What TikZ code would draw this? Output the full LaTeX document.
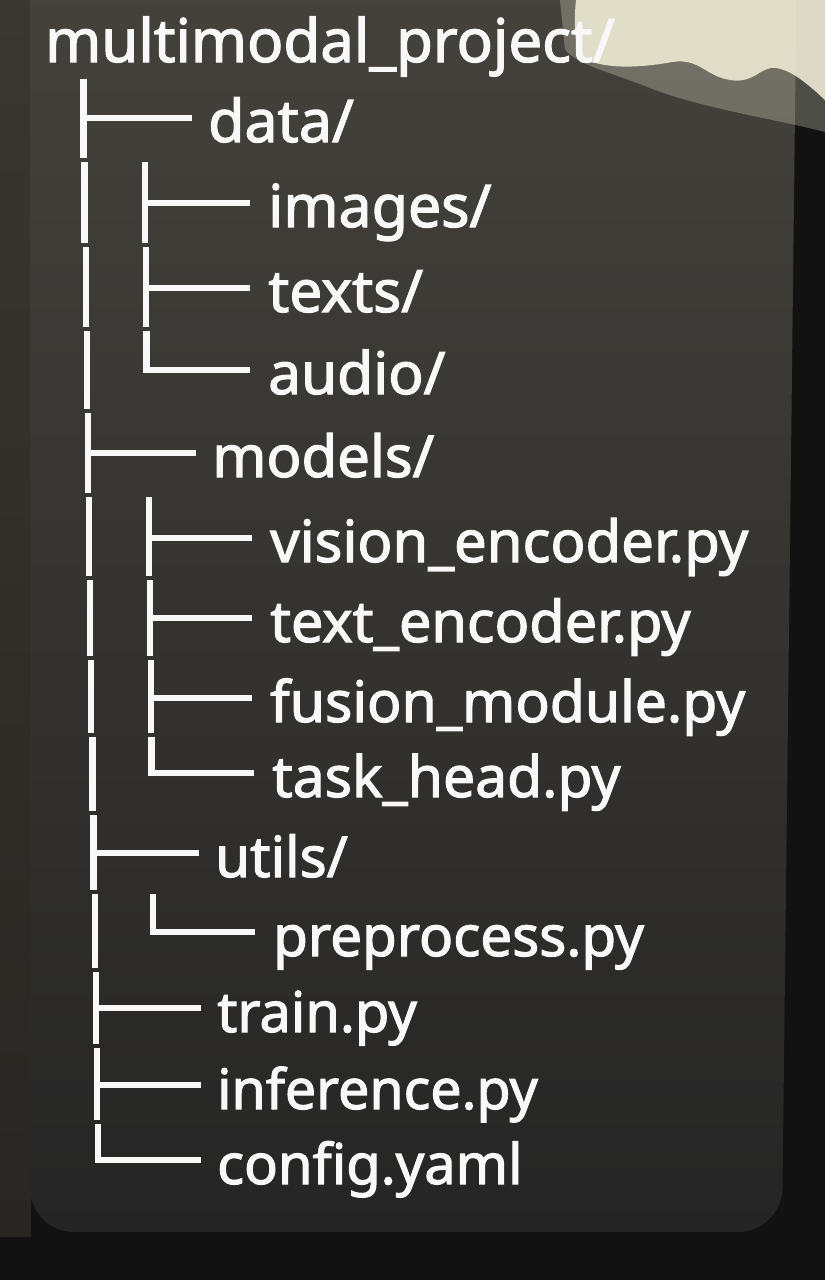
\documentclass[tikz,border=0pt]{standalone}
\usepackage{fontspec}
\newfontfamily\treefont{Noto Sans}[FakeBold=2]
\usetikzlibrary{calc}
\definecolor{outerbg}{HTML}{121212}
\definecolor{leftstrip}{HTML}{3A3630}
\definecolor{paneltop}{HTML}{46433D}
\definecolor{panelmid}{HTML}{2B2A28}
\definecolor{panelbot}{HTML}{252525}
\definecolor{glare}{HTML}{ECEAD4}
\definecolor{ink}{HTML}{F8F8F8}
\newcommand\trseg[3]{\draw[tree] (#1,#2) -- (#1,#3);}
\newcommand\trtee[5]{\draw[tree] (#1,#2) -- (#1,#3);
  \draw[tree] (#1,#2) |- ($(#4.base west)+(-#5pt,24pt)$);}
\newcommand\trell[4]{\draw[tree, line join=miter] (#1,#2) |- ($(#3.base west)+(-#4pt,24pt)$);}
\begin{document}
\begin{tikzpicture}[x=1pt,y=-1pt,
  tree/.style={draw=ink, line width=6.5pt},
  entry/.style={anchor=base west, inner sep=0pt, text=ink,
    font=\treefont\fontsize{#1}{60}\selectfont},
  entry/.default=56]
\useasboundingbox (0,0) rectangle (825,1280);
% background
\fill[outerbg] (0,0) rectangle (825,1280);
\shade[top color=leftstrip, bottom color=leftstrip!55!outerbg] (0,0) rectangle (31,1236);
\shade[rounded corners=44pt, top color=paneltop, middle color=panelmid, bottom color=panelbot]
  (30,-60) -- (797,-60) -- (782,1232) -- (30,1232) -- cycle;
% glare
\fill[glare, opacity=0.28] (560,0) -- (825,0) -- (825,132)
  .. controls (780,120) and (700,108) .. (650,88)
  .. controls (610,72) and (580,66) .. (565,50) -- cycle;
\fill[glare, opacity=0.9] (576,0) -- (825,0) -- (825,100)
  .. controls (810,86) and (792,70) .. (776,68)
  .. controls (760,66) and (755,84) .. (730,80)
  .. controls (705,76) and (700,58) .. (672,62)
  .. controls (640,68) and (600,70) .. (580,56)
  .. controls (574,40) and (574,20) .. (576,0) -- cycle;
% entries
\node[entry=60] (root) at (45,62) {multimodal\_project/};
\node[entry=59] (data) at (208,142) {data/};
\node[entry=59] (images) at (268,227) {images/};
\node[entry=58.5] (texts) at (268,312) {texts/};
\node[entry=58.5] (audio) at (268,394) {audio/};
\node[entry=58] (models) at (212,477) {models/};
\node[entry=58] (vision) at (270,562) {vision\_encoder.py};
\node[entry=57.5] (textenc) at (270,642) {text\_encoder.py};
\node[entry=57] (fusion) at (270,722) {fusion\_module.py};
\node[entry=57] (task) at (272,797) {task\_head.py};
\node[entry=56.5] (utils) at (215,877) {utils/};
\node[entry=56.5] (prep) at (273,956) {preprocess.py};
\node[entry=56] (train) at (217,1032) {train.py};
\node[entry=55.5] (infer) at (217,1109) {inference.py};
\node[entry=56] (config) at (217,1184) {config.yaml};
% main column
\trtee{83.5}{79}{158}{data}{16}
\trseg{84.6}{162}{243}
\trseg{85.8}{247}{327}
\trseg{87}{331}{409}
\trtee{88}{413}{493}{models}{16}
\trseg{89}{497}{576}
\trseg{90}{580}{656}
\trseg{91}{660}{733}
\trseg{92.5}{737}{811}
\trtee{93.5}{815}{890}{utils}{16}
\trseg{95}{894}{968}
\trtee{96}{972}{1044}{train}{16}
\trtee{97}{1048}{1120}{infer}{16}
\trell{98}{1124}{config}{16}
% data children
\trtee{145}{162}{243}{images}{18}
\trtee{146}{247}{327}{texts}{18}
\trell{146.5}{331}{audio}{18}
% models children
\trtee{149}{497}{576}{vision}{18}
\trtee{150}{580}{656}{textenc}{18}
\trtee{151}{660}{733}{fusion}{18}
\trell{151.5}{737}{task}{18}
% utils children
\trell{153}{894}{prep}{18}
\end{tikzpicture}
\end{document}
